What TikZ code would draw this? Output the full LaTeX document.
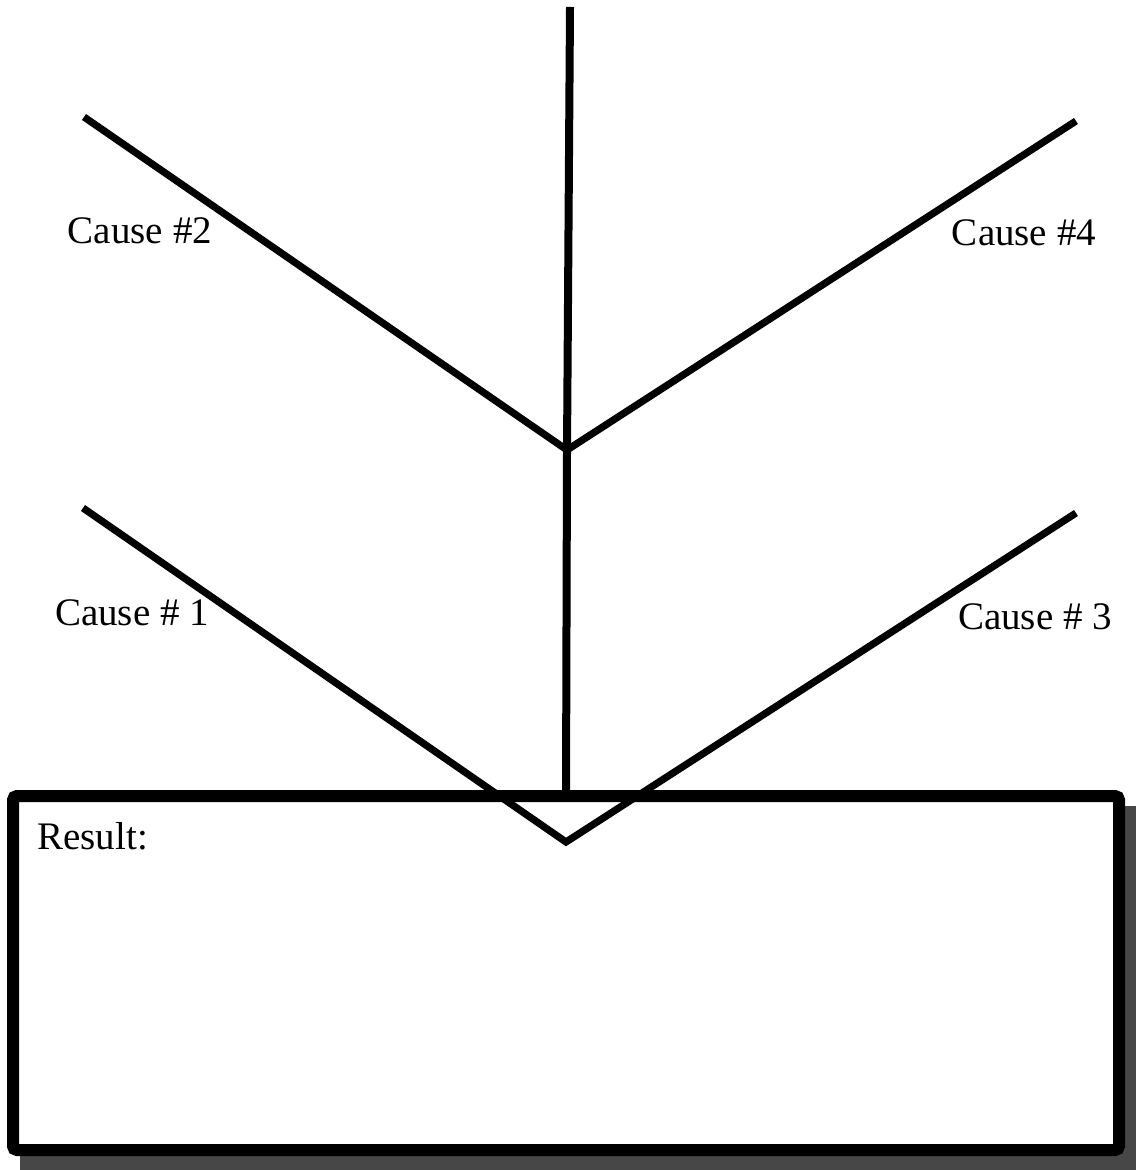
\documentclass[tikz,border=0pt]{standalone}
\usepackage{fontspec}
\setmainfont{Liberation Serif}
\begin{document}
\begin{tikzpicture}[x=0.5pt,y=-0.5pt,
  bone/.style={line width=3.6pt,line cap=butt,line join=miter},
  lbl/.style={font=\fontsize{19.5}{23}\selectfont,inner sep=0pt},
  resbox/.style={line width=6pt,rounded corners=2pt,fill=white}]
\useasboundingbox (0,0) rectangle (1135,1170);
% shadow
\fill[black!72] (20,806) rectangle (1140,1172);
\draw[resbox] (13,796) rectangle (1119,1150);
% spine
\coordinate (top) at (570,7);
\coordinate (j1) at (567,450);
\coordinate (j0) at (566,796);
\coordinate (v) at (566,842);
\coordinate (a2) at (84,117);
\coordinate (a4) at (1076,121);
\coordinate (a1) at (83,508);
\coordinate (a3) at (1076,513);
\draw[bone,line width=4pt] (top) -- (j1) -- (j0);
\draw[bone] (a2) -- (j1) -- (a4);
\draw[bone] (a1) -- (v) -- (a3);
% labels
\node[lbl] (c2) at (140,231) {Cause \#2};
\node[lbl] (c4) at (1024,233) {Cause \#4};
\node[lbl] (c1) at (132,613) {Cause \# 1};
\node[lbl] (c3) at (1035,617) {Cause \# 3};
\node[lbl,anchor=west] (res) at (37,836) {Result:};
\end{tikzpicture}
\end{document}
